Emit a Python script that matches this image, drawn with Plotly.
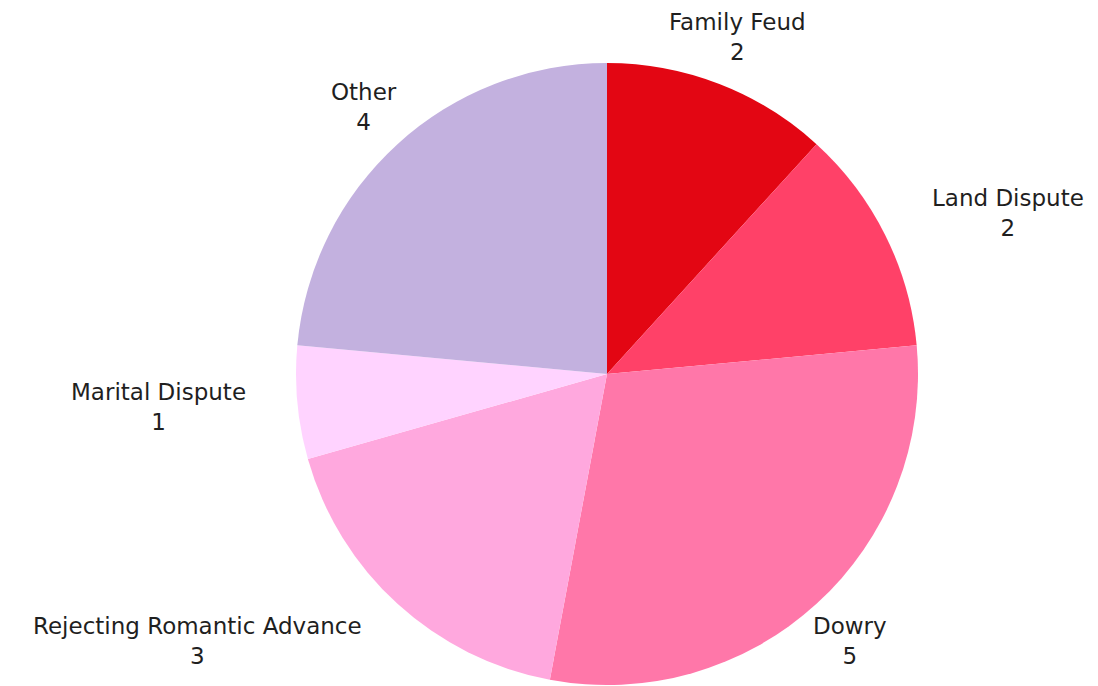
import math
import plotly.graph_objects as go

categories = ["Family Feud", "Land Dispute", "Dowry", "Rejecting Romantic Advance", "Marital Dispute", "Other"]
values = [2, 2, 5, 3, 1, 4]
colors = ["#E30613", "#FF4168", "#FF77A9", "#FFA8DE", "#FFD3FF", "#C3B1DF"]
label_anchors = ["center", "left", "center", "right", "right", "center"]

W, H = 1098, 686
PAGE_OFFSET = 8  # default body margin of the html page
CX, CY, R = 607 - PAGE_OFFSET, 374 - PAGE_OFFSET, 311
LABEL_R = R + 50

fig = go.Figure(go.Pie(
    labels=categories,
    values=values,
    sort=False,
    direction="clockwise",
    rotation=0,
    marker=dict(colors=colors, line=dict(width=0)),
    textinfo="none",
    showlegend=False,
    hoverinfo="label+value",
    domain=dict(x=[(CX - R) / W, (CX + R) / W], y=[1 - (CY + R) / H, 1 - (CY - R) / H]),
))

total = sum(values)
cum = 0
for name, v, anc in zip(categories, values, label_anchors):
    mid = (cum + v / 2) / total * 2 * math.pi
    cum += v
    px = CX + LABEL_R * math.sin(mid)
    py = CY - LABEL_R * math.cos(mid)
    fig.add_annotation(
        x=px / W, y=1 - py / H, xref="paper", yref="paper",
        text=f"{name}<br>{v}", showarrow=False,
        xanchor=anc, yanchor="middle", align="center",
        font=dict(family="DejaVu Sans, sans-serif", size=23, color="#1f1f1f"),
    )

fig.update_layout(
    width=W, height=H,
    margin=dict(l=0, r=0, t=0, b=0),
    paper_bgcolor="white",
    plot_bgcolor="white",
)
fig.write_html("out.html")
